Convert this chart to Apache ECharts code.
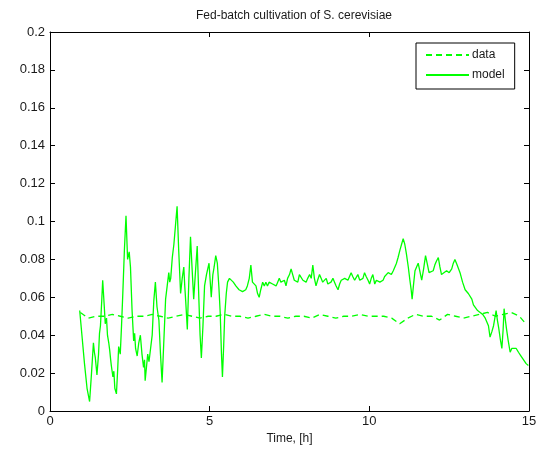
<!DOCTYPE html>
<html>
<head>
<meta charset="utf-8">
<script src="https://cdn.jsdelivr.net/npm/echarts@6/dist/echarts.min.js"></script>
<style>
  html, body { margin: 0; padding: 0; background: #fff; }
  #chart { width: 548px; height: 451px; }
</style>
</head>
<body>
<div id="chart"></div>
<script>
// measured data (dashed), time in h
var dataTime = [0.95, 1.2, 1.45, 1.7, 1.95, 2.2, 2.45, 2.7, 2.95, 3.2, 3.45, 3.7, 3.95, 4.2, 4.45, 4.7, 4.95,
	5.2, 5.45, 5.7, 5.95, 6.2, 6.45, 6.7, 6.95, 7.2, 7.45, 7.7, 7.95, 8.2, 8.45, 8.7, 8.95, 9.2, 9.45, 9.7, 9.95,
	10.2, 10.45, 10.7, 10.95, 11.2, 11.45, 11.7, 11.95, 12.2, 12.45, 12.7, 12.95, 13.2, 13.45, 13.7, 13.95,
	14.2, 14.45, 14.7, 14.85];
var dataValue = [0.052, 0.049, 0.050, 0.050, 0.051, 0.050, 0.049, 0.050, 0.050, 0.051, 0.050, 0.049, 0.050,
	0.051, 0.050, 0.049, 0.050, 0.050, 0.051, 0.050, 0.050, 0.049, 0.050, 0.051, 0.050, 0.050, 0.049, 0.050,
	0.050, 0.049, 0.051, 0.050, 0.049, 0.050, 0.050, 0.051, 0.050, 0.050, 0.050, 0.049, 0.046, 0.049, 0.051,
	0.050, 0.050, 0.048, 0.051, 0.050, 0.049, 0.050, 0.051, 0.052, 0.050, 0.051, 0.052, 0.050, 0.047];

// model output (solid)
var modelTime = [0.93, 1.00, 1.08, 1.16, 1.24, 1.30, 1.36, 1.39, 1.42, 1.47, 1.52, 1.55, 1.58, 1.62, 1.65, 1.70,
	1.73, 1.77, 1.80, 1.84, 1.87, 1.90, 1.92, 1.97, 2.00, 2.03, 2.08, 2.12, 2.15, 2.20, 2.24, 2.28, 2.33, 2.38,
	2.43, 2.48, 2.52, 2.57, 2.62, 2.65, 2.68, 2.73, 2.78, 2.83, 2.88, 2.93, 2.96, 2.98, 3.02, 3.06, 3.10, 3.14,
	3.20, 3.25, 3.30, 3.35, 3.41, 3.46, 3.51, 3.56, 3.62, 3.67, 3.72, 3.75, 3.78, 3.83, 3.88, 3.93, 3.98, 4.03,
	4.09, 4.14, 4.19, 4.22, 4.25, 4.30, 4.35, 4.40, 4.45, 4.50, 4.55, 4.61, 4.66, 4.70, 4.74, 4.79, 4.84, 4.90,
	4.98, 5.05, 5.10, 5.14, 5.19, 5.24, 5.29, 5.33, 5.37, 5.40, 5.44, 5.47, 5.52, 5.56, 5.62, 5.66, 5.74, 5.82,
	5.92, 6.03, 6.08, 6.13, 6.18, 6.24, 6.29, 6.34, 6.40, 6.45, 6.50, 6.55, 6.60, 6.66, 6.71, 6.76, 6.81, 6.86,
	6.92, 6.97, 7.02, 7.08, 7.13, 7.18, 7.23, 7.29, 7.34, 7.39, 7.44, 7.50, 7.55, 7.60, 7.65, 7.70, 7.76, 7.81,
	7.86, 7.92, 7.97, 8.02, 8.07, 8.13, 8.18, 8.23, 8.28, 8.33, 8.38, 8.44, 8.49, 8.54, 8.60, 8.65, 8.70, 8.75,
	8.80, 8.86, 8.91, 8.96, 9.02, 9.07, 9.12, 9.18, 9.23, 9.28, 9.33, 9.38, 9.43, 9.48, 9.54, 9.59, 9.64, 9.70,
	9.75, 9.80, 9.85, 9.90, 9.96, 10.01, 10.06, 10.11, 10.17, 10.22, 10.27, 10.33, 10.38, 10.43, 10.48, 10.54,
	10.59, 10.64, 10.69, 10.75, 10.80, 10.85, 10.90, 10.96, 11.01, 11.06, 11.11, 11.16, 11.22, 11.27, 11.31,
	11.34, 11.38, 11.43, 11.48, 11.53, 11.58, 11.64, 11.70, 11.76, 11.81, 11.87, 11.93, 12.00, 12.05, 12.10,
	12.16, 12.21, 12.26, 12.32, 12.42, 12.50, 12.58, 12.63, 12.68, 12.75, 12.84, 12.92, 13.00, 13.05, 13.10,
	13.15, 13.21, 13.26, 13.31, 13.39, 13.47, 13.55, 13.63, 13.68, 13.73, 13.78, 13.84, 13.89, 13.93, 13.97,
	14.01, 14.05, 14.10, 14.15, 14.19, 14.22, 14.26, 14.29, 14.35, 14.41, 14.46, 14.52, 14.60, 14.67, 14.75,
	14.83, 14.91, 14.98];
var modelValue = [0.053, 0.040, 0.025, 0.012, 0.005, 0.020, 0.036, 0.031, 0.028, 0.019, 0.030, 0.041, 0.045,
	0.058, 0.069, 0.055, 0.046, 0.049, 0.040, 0.036, 0.032, 0.027, 0.024, 0.018, 0.021, 0.012, 0.009, 0.022,
	0.034, 0.030, 0.045, 0.062, 0.085, 0.103, 0.080, 0.084, 0.076, 0.053, 0.037, 0.041, 0.033, 0.029, 0.036,
	0.040, 0.030, 0.023, 0.027, 0.016, 0.015, 0.030, 0.026, 0.025, 0.040, 0.058, 0.068, 0.055, 0.048, 0.030,
	0.015, 0.035, 0.059, 0.066, 0.073, 0.068, 0.070, 0.081, 0.088, 0.098, 0.108, 0.085, 0.062, 0.070, 0.076,
	0.066, 0.058, 0.043, 0.070, 0.092, 0.075, 0.059, 0.072, 0.087, 0.060, 0.040, 0.028, 0.045, 0.066, 0.072,
	0.078, 0.060, 0.072, 0.076, 0.082, 0.078, 0.065, 0.052, 0.030, 0.018, 0.035, 0.050, 0.062, 0.068, 0.070,
	0.069, 0.068, 0.066, 0.064, 0.063, 0.062, 0.064, 0.066, 0.070, 0.077, 0.068, 0.067, 0.066, 0.062, 0.060,
	0.064, 0.068, 0.066, 0.068, 0.066, 0.068, 0.069, 0.067, 0.068, 0.066, 0.068, 0.070, 0.068, 0.067, 0.069,
	0.066, 0.070, 0.072, 0.075, 0.072, 0.069, 0.070, 0.068, 0.072, 0.071, 0.069, 0.070, 0.068, 0.070, 0.072,
	0.070, 0.077, 0.070, 0.066, 0.069, 0.072, 0.070, 0.068, 0.069, 0.070, 0.067, 0.066, 0.068, 0.070, 0.068,
	0.066, 0.064, 0.067, 0.069, 0.068, 0.070, 0.070, 0.069, 0.071, 0.073, 0.071, 0.069, 0.070, 0.072, 0.069,
	0.068, 0.070, 0.073, 0.071, 0.069, 0.067, 0.070, 0.072, 0.067, 0.069, 0.069, 0.068, 0.067, 0.069, 0.071,
	0.072, 0.073, 0.074, 0.072, 0.074, 0.076, 0.078, 0.081, 0.085, 0.088, 0.091, 0.088, 0.083, 0.076, 0.069,
	0.064, 0.059, 0.066, 0.074, 0.076, 0.078, 0.074, 0.069, 0.075, 0.082, 0.078, 0.073, 0.074, 0.074, 0.077,
	0.079, 0.081, 0.076, 0.072, 0.073, 0.074, 0.073, 0.075, 0.078, 0.080, 0.077, 0.073, 0.068, 0.064, 0.065,
	0.062, 0.061, 0.059, 0.056, 0.055, 0.053, 0.052, 0.051, 0.049, 0.047, 0.045, 0.039, 0.042, 0.045, 0.049,
	0.053, 0.048, 0.044, 0.038, 0.033, 0.043, 0.054, 0.048, 0.044, 0.037, 0.031, 0.033, 0.034, 0.033, 0.031,
	0.029, 0.027, 0.025, 0.024];

var xTicks = [0, 5, 10, 15];

function zip(a, b) {
	var out = [];
	for (var i = 0; i < a.length; i++) out.push([a[i], b[i]]);
	return out;
}

var FONT = 'Liberation Sans';
var TXT = '#1a1a1a';
var GREEN = '#00ff00';

var myChart = echarts.init(document.getElementById('chart'));

function tickStyle() {
	return { show: true, inside: true, length: 5, lineStyle: { color: '#000', width: 1 } };
}
function lineStyleBox() {
	return { show: true, onZero: false, lineStyle: { color: '#000', width: 1 } };
}

var option = {
	animation: false,
	backgroundColor: '#fff',
	textStyle: { fontFamily: FONT },

	title: {
		text: 'Fed-batch cultivation of S. cerevisiae',
		left: 289,
		top: 5,
		textAlign: 'center',
		textStyle: { fontFamily: FONT, fontSize: 12, fontWeight: 'normal', color: TXT }
	},

	grid: { left: 50, right: 19, top: 32, bottom: 40 },

	legend: {
		orient: 'vertical',
		left: 416,
		top: 43,
		padding: [6, 10, 8, 9],
		itemGap: 8,
		itemWidth: 43,
		itemHeight: 11,
		borderColor: '#000',
		borderWidth: 1,
		backgroundColor: '#fff',
		itemStyle: { opacity: 0 },
		textStyle: { fontFamily: FONT, fontSize: 12, color: TXT, padding: [0, 0, 0, -2] },
		data: ['data', 'model']
	},

	xAxis: [
		{
			type: 'value', min: 0, max: 15, interval: 5, position: 'bottom',
			axisLine: lineStyleBox(), axisTick: tickStyle(), splitLine: { show: false },
			name: 'Time, [h]', nameLocation: 'middle', nameGap: 21,
			nameTextStyle: { fontFamily: FONT, fontSize: 12, color: TXT },
			axisLabel: { fontFamily: FONT, fontSize: 13, color: TXT, margin: 4,
				formatter: function (v) { return xTicks.indexOf(v) >= 0 ? String(v) : ''; } }
		},
		{
			type: 'value', min: 0, max: 15, interval: 5, position: 'top',
			axisLine: lineStyleBox(), axisTick: tickStyle(), splitLine: { show: false },
			axisLabel: { show: false }
		}
	],

	yAxis: [
		{
			type: 'value', min: 0, max: 0.2, interval: 0.02, position: 'left',
			axisLine: lineStyleBox(), axisTick: tickStyle(), splitLine: { show: false },
			axisLabel: { fontFamily: FONT, fontSize: 13, color: TXT, margin: 5 }
		},
		{
			type: 'value', min: 0, max: 0.2, interval: 0.02, position: 'right',
			axisLine: lineStyleBox(), axisTick: tickStyle(), splitLine: { show: false },
			axisLabel: { show: false }
		}
	],

	series: [
		{
			name: 'data',
			type: 'line',
			symbol: 'none',
			xAxisIndex: 0,
			yAxisIndex: 0,
			itemStyle: { color: GREEN },
			lineStyle: { color: GREEN, width: 1.3, type: [6, 4] },
			data: zip(dataTime, dataValue),
			z: 3
		},
		{
			name: 'model',
			type: 'line',
			symbol: 'none',
			xAxisIndex: 0,
			yAxisIndex: 0,
			itemStyle: { color: GREEN },
			lineStyle: { color: GREEN, width: 1.3 },
			data: zip(modelTime, modelValue),
			z: 2
		}
	]
};

myChart.setOption(option);
</script>
</body>
</html>
